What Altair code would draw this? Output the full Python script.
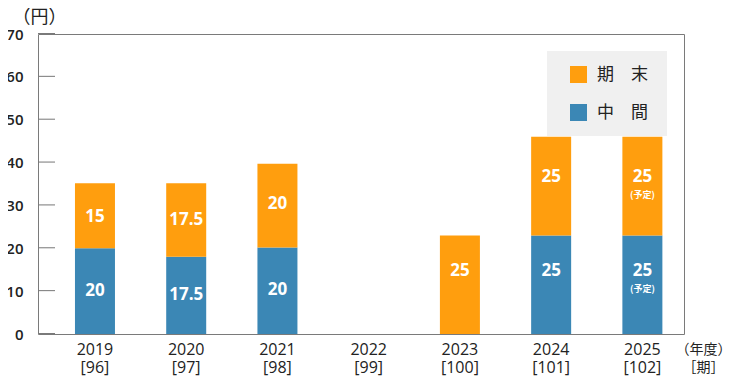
import altair as alt
import pandas as pd

# ---- data ----
years = ["2019", "2020", "2021", "2022", "2023", "2024", "2025"]
periods = ["96", "97", "98", "99", "100", "101", "102"]
interim = [20, 18, 20.2, 0, 0, 23, 23]            # 中間 (bar heights)
year_end = [15.2, 17.2, 19.5, 0, 23, 23, 23]      # 期末 (bar heights)
interim_labels = ["20", "17.5", "20", "", "", "25", "25"]
year_end_labels = ["15", "17.5", "20", "", "25", "25", "25"]
interim_label_pos = [10.1, 9.0, 10.3, 0, 0, 14.8, 14.8]
year_end_label_pos = [27.2, 26.5, 30.3, 0, 14.8, 36.6, 36.6]
interim_notes = ["", "", "", "", "", "", "(予定)"]
year_end_notes = ["", "", "", "", "", "", "(予定)"]
y_ticks = [0, 10, 20, 30, 40, 50, 60, 70]

SEG_END = "期　末"
SEG_MID = "中　間"
ORANGE = "#FF9E0E"
BLUE = "#3B87B5"
FRAME = "#7A7A7A"

xcats = [f"{y}|[{p}]" for y, p in zip(years, periods)]

rows = []
lab_rows = []
for i, xc in enumerate(xcats):
    if interim[i] > 0:
        rows.append({"x": xc, "seg": SEG_MID, "ord": 0, "v": interim[i]})
    if year_end[i] > 0:
        rows.append({"x": xc, "seg": SEG_END, "ord": 1, "v": year_end[i]})
    if interim_labels[i]:
        lab_rows.append({"x": xc, "t": interim_labels[i], "n": interim_notes[i], "p": interim_label_pos[i]})
    if year_end_labels[i]:
        lab_rows.append({"x": xc, "t": year_end_labels[i], "n": year_end_notes[i], "p": year_end_label_pos[i]})

bars_df = pd.DataFrame(rows)
labels_df = pd.DataFrame(lab_rows)
ticks_df = pd.DataFrame({"tv": y_ticks})

NUM_FONT = "Open Sans"
CJK_FONT = "Noto Sans CJK JP"

x_scale = alt.Scale(domain=xcats, range=[0, 650], paddingInner=0, paddingOuter=0.0622, align=1)
y_scale = alt.Scale(domain=[0, 70], nice=False)

x_enc = alt.X(
    "x:N",
    scale=x_scale,
    axis=alt.Axis(
        labelExpr="split(datum.value, '|')",
        labelAngle=0,
        labelFontSize=16,
        labelFont=NUM_FONT,
        labelFontWeight=500,
        labelColor="#222222",
        labelLineHeight=18,
        labelPadding=7,
        labelBaseline="top",
        ticks=False,
        domain=False,
        title=["（年度）", "［期］"],
        titleFont=CJK_FONT,
        titleFontSize=14,
        titleFontWeight="normal",
        titleColor="#222222",
        titleX=665,
        titleY=8,
        titleAlign="center",
        titleBaseline="top",
        titleLineHeight=18,
    ),
)

bars = alt.Chart(bars_df).mark_bar(width=40).encode(
    x=x_enc,
    y=alt.Y(
        "v:Q",
        stack="zero",
        scale=y_scale,
        axis=alt.Axis(
            values=y_ticks,
            labelFontSize=15,
            labelFont=NUM_FONT,
            labelFontWeight=600,
            labelColor="#222222",
            labelPadding=15,
            ticks=False,
            domain=False,
            grid=False,
            title="（円）",
            titleFont=CJK_FONT,
            titleFontSize=18,
            titleFontWeight="normal",
            titleColor="#222222",
            titleAngle=0,
            titleX=1,
            titleY=-17,
            titleAlign="center",
            titleBaseline="middle",
        ),
    ),
    color=alt.Color(
        "seg:N",
        scale=alt.Scale(domain=[SEG_END, SEG_MID], range=[ORANGE, BLUE]),
        legend=alt.Legend(
            title="\u3000",
            titleOrient="right",
            titleFontSize=14,
            titlePadding=4,
            orient="none",
            legendX=509,
            legendY=17,
            fillColor="#F0F0F0",
            padding=15,
            symbolType="square",
            symbolSize=289,
            symbolStrokeWidth=0,
            symbolOffset=8,
            labelFont=CJK_FONT,
            labelFontSize=17,
            labelColor="#222222",
            labelOffset=10,
            rowPadding=20,
        ),
    ),
    order=alt.Order("ord:Q", sort="ascending"),
)

texts = alt.Chart(labels_df).mark_text(
    color="white", font=NUM_FONT, fontSize=17, fontWeight="bold", baseline="middle", align="center"
).encode(
    x=alt.X("x:N", scale=x_scale),
    y=alt.Y("p:Q", scale=y_scale),
    text="t:N",
)

notes = alt.Chart(labels_df).mark_text(
    color="white", font=CJK_FONT, fontSize=9, fontWeight="bold", baseline="middle", align="center", dy=18
).encode(
    x=alt.X("x:N", scale=x_scale),
    y=alt.Y("p:Q", scale=y_scale),
    text="n:N",
)

# short inward tick marks on the left frame, as thin rectangles through the y scale
tick_marks = alt.Chart(ticks_df).transform_calculate(
    tv2="datum.tv + 0.24"
).mark_rect(color=FRAME, opacity=1).encode(
    y=alt.Y("tv:Q", scale=y_scale),
    y2="tv2:Q",
    x=alt.value(0),
    x2=alt.value(17),
)

chart = alt.layer(bars, texts, notes, tick_marks).properties(
    width=646,
    height=300,
    background="white",
    autosize=alt.AutoSizeParams(type="none"),
    padding={"left": 30, "top": 26, "right": 48, "bottom": 42},
).configure_view(stroke=FRAME, strokeWidth=1)

chart.save("out.html", embed_options={"renderer": "svg", "actions": False})
